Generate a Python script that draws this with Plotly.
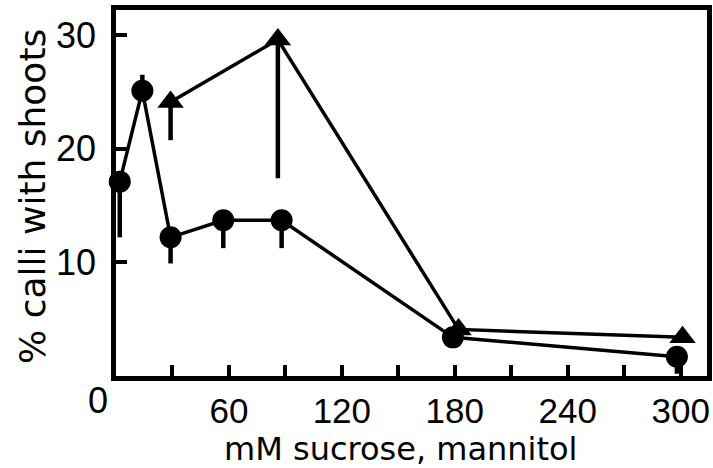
import plotly.graph_objects as go

# Circle series
circ_x = [2, 14, 29, 57, 88, 179, 298]
circ_y = [17.1, 25.1, 12.2, 13.7, 13.7, 3.4, 1.7]
circ_err_plus = [0, 1.4, 0, 0, 0, 0, 0]
circ_err_minus = [4.9, 0, 2.3, 2.45, 2.45, 0, 1.5]

# Triangle series
tri_x = [29, 86, 182, 301]
tri_y = [24.1, 29.6, 4.1, 3.4]
tri_err_plus = [0, 0, 0, 0]
tri_err_minus = [3.35, 12.2, 0, 0]

x_ticks = [30, 60, 90, 120, 150, 180, 210, 240, 270, 300]
x_tick_text = ["", "60", "", "120", "", "180", "", "240", "", "300"]
y_ticks = [10, 20, 30]
y_tick_text = ["10", "20", "30"]

TICKFONT = "Liberation Sans, Arial, sans-serif"
TITLEFONT = "DejaVu Sans"

L, T, R, B = 116, 10, 707, 376  # plot-area box in page pixels
W, H = 713, 468
PW, PH = R - L, B - T


def px(xr):
    return (xr - L) / PW


def py(yr):
    return (B - yr) / PH


fig = go.Figure()
fig.add_trace(go.Scatter(
    x=tri_x, y=tri_y, mode="lines+markers",
    line=dict(color="black", width=3.5),
    marker=dict(symbol="triangle-up", size=23, color="black"),
    error_y=dict(type="data", symmetric=False, array=tri_err_plus,
                 arrayminus=tri_err_minus, color="black", thickness=4.5, width=0),
    showlegend=False, cliponaxis=False))
fig.add_trace(go.Scatter(
    x=circ_x, y=circ_y, mode="lines+markers",
    line=dict(color="black", width=3.5),
    marker=dict(symbol="circle", size=22, color="black"),
    error_y=dict(type="data", symmetric=False, array=circ_err_plus,
                 arrayminus=circ_err_minus, color="black", thickness=4.5, width=0),
    showlegend=False, cliponaxis=False))

fig.update_layout(
    width=W, height=H,
    margin=dict(l=L, r=W - R, t=T, b=H - B, pad=0),
    paper_bgcolor="white", plot_bgcolor="white",
    font=dict(family=TITLEFONT, color="black"),
    xaxis=dict(range=[0, 314], tickvals=x_ticks, ticktext=x_tick_text,
               ticks="inside", ticklen=11, tickwidth=3.5, tickcolor="black",
               showline=True, linewidth=4.5, linecolor="black", mirror=True,
               showgrid=False, zeroline=False, automargin=False,
               ticklabelstandoff=0,
               tickfont=dict(size=35, family=TICKFONT)),
    yaxis=dict(range=[0, 32.2], tickvals=y_ticks, ticktext=y_tick_text,
               ticks="inside", ticklen=11, tickwidth=3.5, tickcolor="black",
               showline=True, linewidth=4.5, linecolor="black", mirror=True,
               showgrid=False, zeroline=False, automargin=False,
               ticklabelstandoff=8,
               tickfont=dict(size=36, family=TICKFONT)),
)
fig.add_annotation(x=px(98), y=py(400), xref="paper", yref="paper", text="0", showarrow=False,
                   xanchor="center", yanchor="middle",
                   font=dict(size=36, family=TICKFONT))
fig.add_annotation(x=px(400), y=py(449), xref="paper", yref="paper",
                   text="mM sucrose, mannitol",
                   showarrow=False, xanchor="center", yanchor="middle",
                   font=dict(size=32, family=TITLEFONT))
fig.add_annotation(x=px(32), y=py(197), xref="paper", yref="paper",
                   text="% calli with shoots",
                   showarrow=False, xanchor="center", yanchor="middle", textangle=-90,
                   font=dict(size=36, family=TITLEFONT))

fig.write_html(
    "out.html",
    config={"displayModeBar": False},
    post_script="document.body.style.margin='0';document.body.style.overflow='hidden';",
)
